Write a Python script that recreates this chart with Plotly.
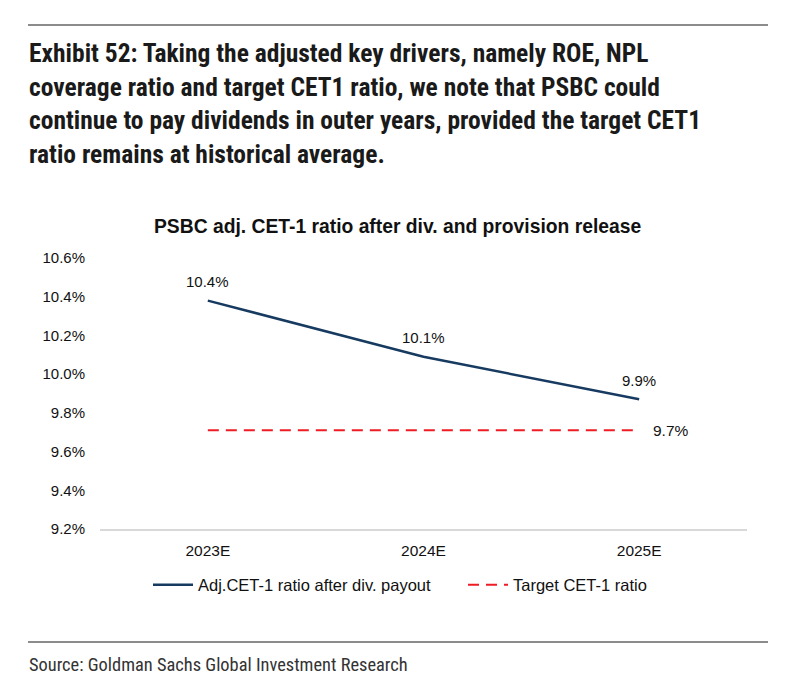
import plotly.graph_objects as go

categories = ["2023E", "2024E", "2025E"]
adj_cet1 = [10.38, 10.09, 9.87]
target_cet1 = [9.71, 9.71, 9.71]
adj_labels = ["10.4%", "10.1%", "9.9%"]
target_labels = ["", "", "9.7%"]
y_ticks = [9.2, 9.4, 9.6, 9.8, 10.0, 10.2, 10.4, 10.6]
y_tick_labels = ["9.2%", "9.4%", "9.6%", "9.8%", "10.0%", "10.2%", "10.4%", "10.6%"]

OFF = 8  # browser body margin
W, H = 792 - OFF, 687 - OFF
# target pixel positions in the screenshot
PL, PR, PT, PB = 100, 747, 258, 529
L, R, T, B = PL - OFF, W - (PR - OFF), PT - OFF, H - (PB - OFF)
PW, PH = W - L - R, H - T - B

def px(x):
    return (x - OFF - L) / PW

def py(y):
    return (H - B - (y - OFF)) / PH

fig = go.Figure()
fig.add_trace(go.Scatter(
    x=categories, y=adj_cet1, mode="lines",
    line=dict(color="#173a60", width=2.5),
    name="Adj.CET-1 ratio after div. payout", cliponaxis=False))
fig.add_trace(go.Scatter(
    x=categories, y=target_cet1, mode="lines",
    line=dict(color="#ee1c24", width=2, dash="11px,7px"),
    name="Target CET-1 ratio", cliponaxis=False))

annotations = []
for c, v, t in zip(categories, adj_cet1, adj_labels):
    annotations.append(dict(x=c, y=v, xref="x", yref="y", text=t, showarrow=False,
                            yshift=19, xanchor="center", yanchor="middle",
                            font=dict(size=15, color="#111")))
for c, v, t in zip(categories, target_cet1, target_labels):
    if t:
        annotations.append(dict(x=c, y=v, xref="x", yref="y", text=t, showarrow=False,
                                xshift=12, xanchor="left", yanchor="middle",
                                font=dict(size=15.5, color="#111")))

title_lines = [
    "Exhibit 52: Taking the adjusted key drivers, namely ROE, NPL",
    "coverage ratio and target CET1 ratio, we note that PSBC could",
    "continue to pay dividends in outer years, provided the target CET1",
    "ratio remains at historical average.",
]
for i, line in enumerate(title_lines):
    annotations.append(dict(
        text="<b>" + line + "</b>", x=px(27), y=py(53 + i * 33.5), xref="paper", yref="paper",
        xanchor="left", yanchor="middle", showarrow=False,
        font=dict(family="Roboto Condensed, Liberation Sans Narrow, sans-serif", size=25.5, color="#1a1a1a")))
annotations.append(dict(
    text="<b>PSBC adj. CET-1 ratio after div. and provision release</b>",
    x=px(397), y=py(226), xref="paper", yref="paper", xanchor="center", yanchor="middle",
    showarrow=False, font=dict(family="Liberation Sans, Arial, sans-serif", size=19.3, color="#111")))
annotations.append(dict(
    text="Source: Goldman Sachs Global Investment Research",
    x=px(27), y=py(664), xref="paper", yref="paper", xanchor="left", yanchor="middle",
    showarrow=False, font=dict(family="Roboto Condensed, Liberation Sans Narrow, sans-serif", size=18.4, color="#333")))

shapes = [
    dict(type="line", xref="paper", yref="paper", x0=px(28), x1=px(768), y0=py(25), y1=py(25),
         line=dict(color="#8c8c8c", width=2)),
    dict(type="line", xref="paper", yref="paper", x0=px(28), x1=px(768), y0=py(642), y1=py(642),
         line=dict(color="#8c8c8c", width=2)),
]

fig.update_layout(
    width=W, height=H, margin=dict(l=L, r=R, t=T, b=B, autoexpand=False),
    paper_bgcolor="white", plot_bgcolor="white",
    font=dict(family="Liberation Sans, Arial, sans-serif", size=15, color="#111"),
    showlegend=True,
    legend=dict(orientation="h", x=px(148), y=py(585), xanchor="left", yanchor="middle",
                font=dict(size=16.5, color="#111"), entrywidth=260, entrywidthmode="pixels",
                itemwidth=40, tracegroupgap=0, bgcolor="rgba(0,0,0,0)"),
    annotations=annotations, shapes=shapes,
    xaxis=dict(showgrid=False, showline=True, linecolor="#d9d9d9", linewidth=2, ticks="",
               tickfont=dict(size=15.5, color="#111"), range=[-0.5, 2.5], zeroline=False,
               ticklabelstandoff=6),
    yaxis=dict(range=[9.2, 10.6], tickvals=y_ticks, ticktext=y_tick_labels, showgrid=False,
               showline=False, zeroline=False, ticks="", tickfont=dict(size=15, color="#111"),
               ticklabelstandoff=14),
)

fig.write_html("out.html")
